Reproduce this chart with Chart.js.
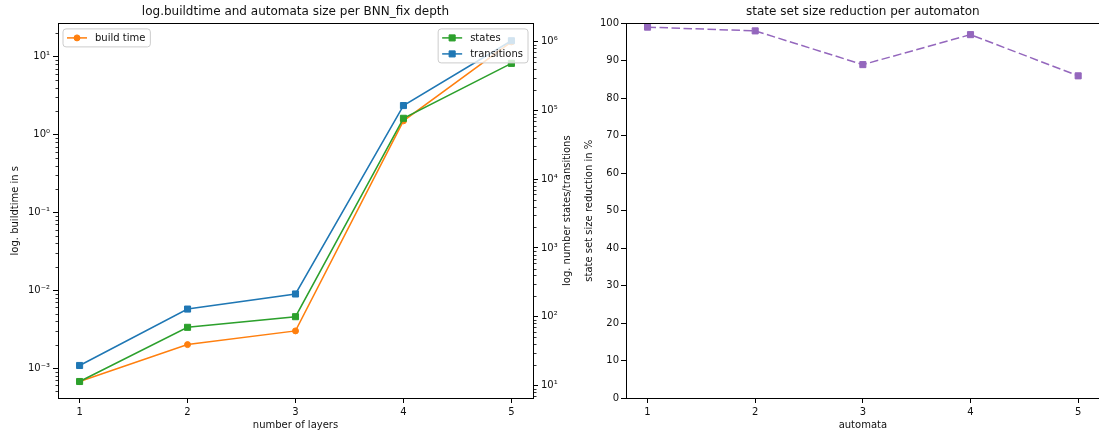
<!DOCTYPE html>
<html>
<head>
<meta charset="utf-8">
<script src="https://cdn.jsdelivr.net/npm/chart.js@4.4.0/dist/chart.umd.min.js"></script>
<style>
html, body { margin: 0; padding: 0; background: #fff; overflow: hidden; width: 1099px; height: 434px; }
canvas { position: absolute; top: 0; }
#leftChart { left: 0; }
#rightChart { left: 580px; }
</style>
</head>
<body>
<canvas id="leftChart" width="580" height="434"></canvas>
<canvas id="rightChart" width="525" height="434"></canvas>
<script>
// values
const layers = [1, 2, 3, 4, 5];
const buildTime = [0.00067, 0.002, 0.003, 1.5, 15.5];
const states = [11.4, 70, 100, 77000, 485000];
const transitions = [19.5, 129, 214, 118000, 1035000];
const automata = [1, 2, 3, 4, 5];
const reduction = [99, 98, 89, 97, 86];
const reductionTicks = [0, 10, 20, 30, 40, 50, 60, 70, 80, 90, 100];

const FONT = 'DejaVu Sans';
const INK = '#111';
Chart.defaults.font.family = FONT;
Chart.defaults.font.size = 10;
Chart.defaults.color = INK;

const sup = {'-': '⁻', '0': '⁰', '1': '¹', '2': '²', '3': '³', '4': '⁴', '5': '⁵', '6': '⁶', '7': '⁷', '8': '⁸', '9': '⁹'};
function powLabel(v) {
  const e = Math.round(Math.log10(v));
  return '10' + String(e).split('').map(c => sup[c]).join('');
}
function decadeTicks(scale) {
  const lo = Math.ceil(Math.log10(scale.min) - 1e-9);
  const hi = Math.floor(Math.log10(scale.max) + 1e-9);
  const t = [];
  for (let e = lo; e <= hi; e++) t.push({value: Math.pow(10, e), major: true});
  scale.ticks = t;
}
function pts(xs, ys) { return xs.map((x, i) => ({x: x, y: ys[i]})); }

const tickGrid = {drawOnChartArea: false, drawTicks: true, tickLength: 5, tickColor: '#000', tickWidth: 1};

// box round the plot + short minor ticks on log axes
const frame = {
  id: 'frame',
  afterDraw(chart) {
    const ctx = chart.ctx, a = chart.chartArea;
    ctx.save();
    ctx.strokeStyle = '#000';
    ctx.lineWidth = 1;
    ctx.strokeRect(Math.round(a.left) + 0.5, Math.round(a.top) + 0.5,
      Math.round(a.right) - Math.round(a.left), Math.round(a.bottom) - Math.round(a.top));
    ctx.beginPath();
    ctx.lineWidth = 0.8;
    Object.values(chart.scales).forEach(s => {
      if (s.type !== 'logarithmic') return;
      const left = s.position === 'left';
      const x0 = left ? Math.round(s.right) + 0.5 : Math.round(s.left) + 0.5;
      const dir = left ? -1 : 1;
      for (let e = Math.floor(Math.log10(s.min)); e <= Math.ceil(Math.log10(s.max)); e++) {
        for (let j = 2; j < 10; j++) {
          const v = j * Math.pow(10, e);
          if (v < s.min || v > s.max) continue;
          const y = Math.round(s.getPixelForValue(v)) + 0.5;
          ctx.moveTo(x0, y);
          ctx.lineTo(x0 + dir * 3, y);
        }
      }
    });
    ctx.stroke();
    ctx.restore();
  }
};

function drawMarker(ctx, d, x, y) {
  ctx.fillStyle = d.backgroundColor;
  ctx.strokeStyle = d.borderColor;
  ctx.lineWidth = 1;
  ctx.beginPath();
  if (d.pointStyle === 'rect') {
    const s = Math.SQRT1_2 * d.pointRadius;
    ctx.rect(x - s, y - s, 2 * s, 2 * s);
  } else {
    ctx.arc(x, y, d.pointRadius, 0, Math.PI * 2);
  }
  ctx.fill();
  ctx.stroke();
}

function drawLegend(chart, idx, corner) {
  const ctx = chart.ctx, a = chart.chartArea;
  const items = idx.map(i => chart.data.datasets[i]);
  ctx.save();
  ctx.font = '10px "' + FONT + '"';
  const textW = Math.max(...items.map(d => ctx.measureText(d.label).width));
  const rowH = 16;
  const w = 4 + 20 + 8 + textW + 5;
  const h = 2 + rowH * items.length;
  const left = corner === 'left' ? a.left + 5 : a.right - 5 - w;
  const top = a.top + 5.5;
  ctx.beginPath();
  ctx.roundRect(left, top, w, h, 3);
  ctx.fillStyle = 'rgba(255,255,255,0.8)';
  ctx.fill();
  ctx.strokeStyle = '#cccccc';
  ctx.lineWidth = 1;
  ctx.stroke();
  items.forEach((d, k) => {
    const cy = top + 9 + k * rowH;
    ctx.beginPath();
    ctx.strokeStyle = d.borderColor;
    ctx.lineWidth = d.borderWidth;
    ctx.moveTo(left + 4, cy);
    ctx.lineTo(left + 24, cy);
    ctx.stroke();
    drawMarker(ctx, d, left + 14, cy);
    ctx.fillStyle = INK;
    ctx.textBaseline = 'middle';
    ctx.textAlign = 'left';
    ctx.fillText(d.label, left + 32, cy + 0.5);
  });
  ctx.restore();
}

const leftExtras = {
  id: 'leftExtras',
  afterDatasetsDraw(chart) {
    drawLegend(chart, [2], 'left');
    drawLegend(chart, [1, 0], 'right');
  },
  afterDraw(chart) {
    const ctx = chart.ctx, a = chart.chartArea, s = chart.scales.y2;
    ctx.save();
    ctx.translate(s.right - 13, (a.top + a.bottom) / 2);
    ctx.rotate(-Math.PI / 2);
    ctx.font = '10px "' + FONT + '"';
    ctx.fillStyle = INK;
    ctx.textAlign = 'center';
    ctx.textBaseline = 'middle';
    ctx.fillText('log. number states/transitions', 0, 0);
    ctx.restore();
  }
};

const leftChart = new Chart(document.getElementById('leftChart'), {
  type: 'line',
  data: {
    datasets: [{
      label: 'transitions',
      data: pts(layers, transitions),
      yAxisID: 'y2',
      borderColor: '#1f77b4',
      backgroundColor: '#1f77b4',
      borderWidth: 1.5,
      pointStyle: 'rect',
      pointRadius: 4.3,
      pointBorderWidth: 1
    }, {
      label: 'states',
      data: pts(layers, states),
      yAxisID: 'y2',
      borderColor: '#2ca02c',
      backgroundColor: '#2ca02c',
      borderWidth: 1.5,
      pointStyle: 'rect',
      pointRadius: 4.3,
      pointBorderWidth: 1
    }, {
      label: 'build time',
      data: pts(layers, buildTime),
      yAxisID: 'y',
      borderColor: '#ff7f0e',
      backgroundColor: '#ff7f0e',
      borderWidth: 1.5,
      pointStyle: 'circle',
      pointRadius: 3,
      pointBorderWidth: 1
    }]
  },
  options: {
    responsive: false,
    animation: false,
    events: [],
    layout: {padding: 0},
    plugins: {
      legend: {display: false},
      tooltip: {enabled: false},
      title: {
        display: true,
        text: 'log.buildtime and automata size per BNN_fix depth',
        font: {size: 12, weight: 'normal'},
        color: INK,
        padding: {top: 5, bottom: 4},
        fullSize: false
      }
    },
    scales: {
      x: {
        type: 'linear',
        position: 'bottom',
        min: 0.8,
        max: 5.2,
        afterBuildTicks: s => { s.ticks = layers.map(v => ({value: v})); },
        afterFit: s => { s.height = 36; },
        ticks: {padding: 3, maxRotation: 0},
        grid: tickGrid,
        border: {display: false},
        title: {display: true, text: 'number of layers', padding: {top: 0, bottom: 3}}
      },
      y: {
        type: 'logarithmic',
        position: 'left',
        min: 4.12e-4,
        max: 26.8,
        afterBuildTicks: decadeTicks,
        afterFit: s => { s.width = 58; },
        ticks: {callback: v => powLabel(v), padding: 3, autoSkip: false},
        grid: tickGrid,
        border: {display: false},
        title: {display: true, text: 'log. buildtime in s', padding: {top: 9, bottom: 0}}
      },
      y2: {
        type: 'logarithmic',
        position: 'right',
        min: 6.56,
        max: 1.85e6,
        afterBuildTicks: decadeTicks,
        afterFit: s => { s.width = 47; },
        ticks: {callback: v => powLabel(v), padding: 3, autoSkip: false},
        grid: tickGrid,
        border: {display: false},
        title: {display: false}
      }
    }
  },
  plugins: [frame, leftExtras]
});

const rightChart = new Chart(document.getElementById('rightChart'), {
  type: 'line',
  data: {
    datasets: [{
      label: 'reduction',
      data: pts(automata, reduction),
      borderColor: '#9467bd',
      backgroundColor: '#9467bd',
      borderWidth: 1.5,
      borderDash: [8.5, 3.5],
      pointStyle: 'rect',
      pointRadius: 4.3,
      pointBorderWidth: 1
    }]
  },
  options: {
    responsive: false,
    animation: false,
    events: [],
    layout: {padding: {right: 4}},
    plugins: {
      legend: {display: false},
      tooltip: {enabled: false},
      title: {
        display: true,
        text: 'state set size reduction per automaton',
        font: {size: 12, weight: 'normal'},
        color: INK,
        padding: {top: 5, bottom: 4},
        fullSize: false
      }
    },
    scales: {
      x: {
        type: 'linear',
        position: 'bottom',
        min: 0.8,
        max: 5.2,
        afterBuildTicks: s => { s.ticks = automata.map(v => ({value: v})); },
        afterFit: s => { s.height = 36; },
        ticks: {padding: 3, maxRotation: 0},
        grid: tickGrid,
        border: {display: false},
        title: {display: true, text: 'automata', padding: {top: 0, bottom: 3}}
      },
      y: {
        type: 'linear',
        position: 'left',
        min: 0,
        max: 100,
        afterBuildTicks: s => { s.ticks = reductionTicks.map(v => ({value: v})); },
        afterFit: s => { s.width = 46; },
        ticks: {padding: 2, autoSkip: false},
        grid: tickGrid,
        border: {display: false},
        title: {display: true, text: 'state set size reduction in %', padding: {top: 3, bottom: 0}}
      }
    }
  },
  plugins: [frame]
});
</script>
</body>
</html>
